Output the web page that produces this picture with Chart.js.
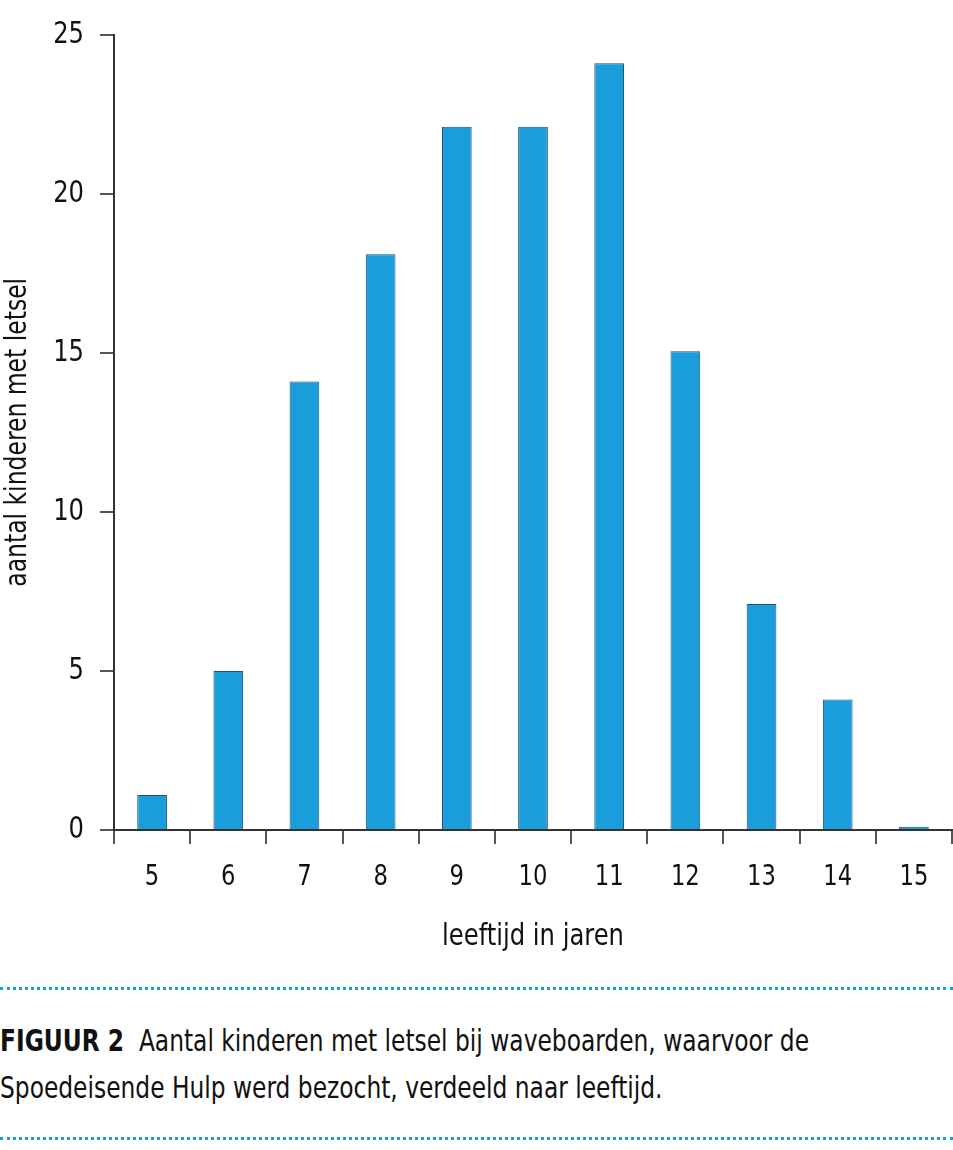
<!DOCTYPE html>
<html>
<head>
<meta charset="utf-8">
<script src="https://cdn.jsdelivr.net/npm/chart.js@4.4.1/dist/chart.umd.min.js"></script>
<style>
  html, body { margin: 0; padding: 0; background: #fff; }
  #wrap { width: 953px; height: 960px; position: relative; }
  .caption {
    position: absolute; left: 0; width: 1100px;
    font-family: "DejaVu Sans Condensed", "DejaVu Sans", sans-serif; font-stretch: condensed;
    font-size: 30px; color: #111; line-height: 47px;
    transform: scaleX(0.865); transform-origin: 0 0;
  }
  .dots { position: absolute; left: 0; width: 953px; border-top: 3px dotted #1a9edb; }
</style>
</head>
<body>
<div id="wrap"><canvas id="chart"></canvas></div>
<div class="dots" style="top:987px"></div>
<div class="caption" style="top:1017px"><b>FIGUUR 2</b>&nbsp; Aantal kinderen met letsel bij waveboarden, waarvoor de<br>Spoedeisende Hulp werd bezocht, verdeeld naar leeftijd.</div>
<div class="dots" style="top:1137px"></div>
<script>
const FONT = '"DejaVu Sans Condensed", "DejaVu Sans", sans-serif'

const ages = ['5', '6', '7', '8', '9', '10', '11', '12', '13', '14', '15']
const children = [1.1, 5, 14.1, 18.1, 22.1, 22.1, 24.1, 15.05, 7.1, 4.1, 0.1]
const yTicks = [0, 5, 10, 15, 20, 25]

const xTitle = 'leeftijd in jaren'
const yTitle = 'aantal kinderen met letsel'

let data = {
    labels: ages,
    datasets: [{
        data: children,
        backgroundColor: '#1a9edb',
        borderColor: '#20506e',
        borderWidth: 1,
        categoryPercentage: 1,
        barPercentage: 0.39
    }]
}

const config = {
    type: 'bar',
    data: data,
    options: {
        responsive: false,
        animation: false,
        layout: { padding: { top: 33, right: 1, left: 0, bottom: 0 } },
        plugins: { legend: { display: false }, tooltip: { enabled: false } },
        scales: {
            x: {
                offset: true,
                border: { color: '#333', width: 2 },
                grid: { offset: true, drawOnChartArea: false, drawTicks: true, tickLength: 14, color: '#555', lineWidth: 2 },
                ticks: { color: '#111', font: { family: FONT, size: 29 }, padding: 16 },
                title: { display: true, text: xTitle, color: '#111', font: { family: FONT, size: 31 }, padding: { top: 10 } },
                afterFit: (s) => { s.height = 130 }
            },
            y: {
                min: 0,
                max: 25,
                afterBuildTicks: (s) => { s.ticks = yTicks.map(v => ({ value: v })) },
                border: { color: '#333', width: 2 },
                grid: { drawOnChartArea: false, drawTicks: true, tickLength: 14, color: '#555', lineWidth: 2 },
                ticks: { color: '#111', font: { family: FONT, size: 31 }, padding: 16 },
                title: { display: true, text: yTitle, color: '#111', font: { family: FONT, size: 30 }, padding: 0 },
                afterFit: (s) => { s.width = 114 }
            }
        }
    }
}

let cv = document.getElementById('chart')
cv.width = 953
cv.height = 960
let ctx = cv.getContext('2d')

// the original uses a narrow type, squeeze the text a bit
const fill = ctx.fillText.bind(ctx)
ctx.fillText = function (t, x, y) {
    this.save()
    this.translate(x, y)
    this.scale(0.87, 1)
    fill(t, 0, 0)
    this.restore()
}

new Chart(ctx, config)
</script>
</body>
</html>
